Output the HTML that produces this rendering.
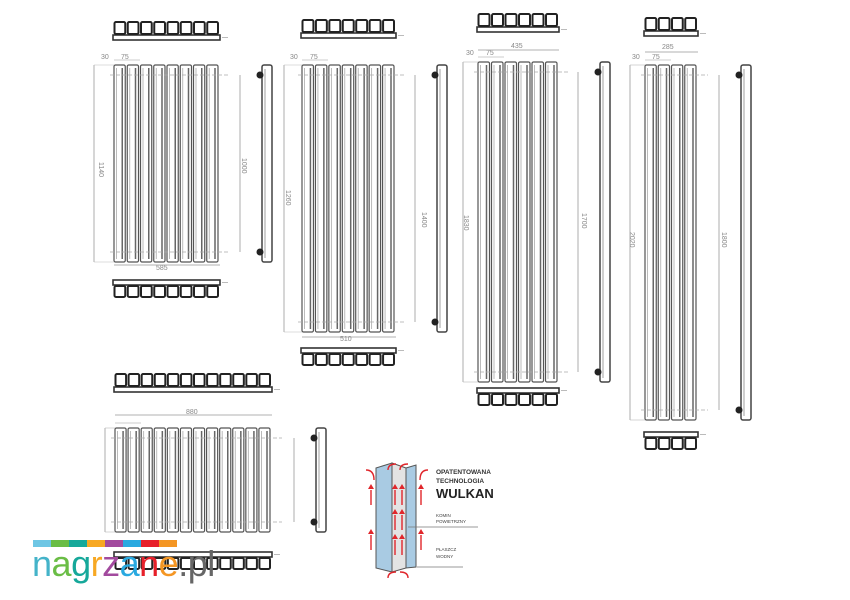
<!DOCTYPE html>
<html><head><meta charset="utf-8">
<style>
html,body{margin:0;padding:0;background:#fff;}
svg{display:block;}
text{font-family:"Liberation Sans",sans-serif;}
</style></head>
<body>
<svg id="s" width="850" height="600" viewBox="0 0 850 600" xmlns="http://www.w3.org/2000/svg">
<g id="g"></g>
<g font-size="7" fill="#888">
<text x="101" y="59">30</text><text x="121" y="59">75</text>
<text x="290" y="59">30</text><text x="310" y="59">75</text>
<text x="466" y="55">30</text><text x="486" y="55">75</text>
<text x="511" y="48">435</text>
<text x="632" y="59">30</text><text x="652" y="59">75</text>
<text x="662" y="49">285</text>
<text x="156" y="270">585</text>
<text x="340" y="341">510</text>
<text x="186" y="414">880</text>
<text transform="translate(99,162) rotate(90)">1140</text>
<text transform="translate(242,158) rotate(90)">1000</text>
<text transform="translate(286,190) rotate(90)">1260</text>
<text transform="translate(422,212) rotate(90)">1400</text>
<text transform="translate(464,215) rotate(90)">1830</text>
<text transform="translate(582,213) rotate(90)">1700</text>
<text transform="translate(630,232) rotate(90)">2020</text>
<text transform="translate(722,232) rotate(90)">1800</text>
</g>
<g>
<polygon points="376,468 392,463 392,572 376,568" fill="#a9cbe3" stroke="#555" stroke-width="1"/>
<polygon points="392,463 406,468 406,568 392,572" fill="#e3e3e3" stroke="#555" stroke-width="1"/>
<polygon points="406,468 416,465 416,567 406,568" fill="#a9cbe3" stroke="#555" stroke-width="1"/>
<g stroke="#e0262b" stroke-width="1.4" fill="none">
<path d="M366,470 q8,0 8,10"/><path d="M428,470 q-8,0 -8,10"/>
<path d="M388,470 q0,-6 8,-6"/><path d="M400,470 q0,-6 8,-6"/>
<path d="M388,578 q0,-6 8,-6"/><path d="M408,578 q0,-6 -8,-6"/>
<line x1="371" y1="505" x2="371" y2="490"/><line x1="371" y1="550" x2="371" y2="535"/>
<line x1="421" y1="505" x2="421" y2="490"/><line x1="421" y1="550" x2="421" y2="535"/>
<line x1="395" y1="505" x2="395" y2="490"/><line x1="402" y1="505" x2="402" y2="490"/>
<line x1="395" y1="530" x2="395" y2="515"/><line x1="402" y1="530" x2="402" y2="515"/>
<line x1="395" y1="555" x2="395" y2="540"/><line x1="402" y1="555" x2="402" y2="540"/>
</g>
<g fill="#e0262b">
<polygon points="368,489 371,484 374,489"/><polygon points="368,534 371,529 374,534"/>
<polygon points="418,489 421,484 424,489"/><polygon points="418,534 421,529 424,534"/>
<polygon points="392,489 395,484 398,489"/><polygon points="399,489 402,484 405,489"/>
<polygon points="392,514 395,509 398,514"/><polygon points="399,514 402,509 405,514"/>
<polygon points="392,539 395,534 398,539"/><polygon points="399,539 402,534 405,539"/>
</g>
<line x1="408" y1="527" x2="478" y2="527" stroke="#777" stroke-width="0.8"/>
<line x1="417" y1="567" x2="463" y2="567" stroke="#777" stroke-width="0.8"/>
<text x="436" y="474" font-size="6.5" font-weight="bold" fill="#333">OPATENTOWANA</text>
<text x="436" y="483" font-size="6.5" font-weight="bold" fill="#333">TECHNOLOGIA</text>
<text x="436" y="498" font-size="13" font-weight="bold" fill="#222">WULKAN</text>
<text x="436" y="517" font-size="4.5" fill="#444">KOMIN</text>
<text x="436" y="523" font-size="4.5" fill="#444">POWIETRZNY</text>
<text x="436" y="551" font-size="4.5" fill="#444">PŁASZCZ</text>
<text x="436" y="558" font-size="4.5" fill="#444">WODNY</text>
</g>
<g>
<rect x="33" y="540" width="18" height="7" fill="#6ec6e4"/>
<rect x="51" y="540" width="18" height="7" fill="#6abd45"/>
<rect x="69" y="540" width="18" height="7" fill="#16a89a"/>
<rect x="87" y="540" width="18" height="7" fill="#f7a823"/>
<rect x="105" y="540" width="18" height="7" fill="#a24a9e"/>
<rect x="123" y="540" width="18" height="7" fill="#29a9e0"/>
<rect x="141" y="540" width="18" height="7" fill="#e7202a"/>
<rect x="159" y="540" width="18" height="7" fill="#f49624"/>
<text x="32" y="576" font-size="36" fill="#555" style="letter-spacing:-0.5px"><tspan fill="#44b3c9">n</tspan><tspan fill="#6abd45">a</tspan><tspan fill="#16a89a">g</tspan><tspan fill="#f7a823">r</tspan><tspan fill="#a24a9e">z</tspan><tspan fill="#29a9e0">a</tspan><tspan fill="#e7202a">n</tspan><tspan fill="#f49624">e</tspan><tspan fill="#666">.pl</tspan></text>
</g>
</svg>
<script>
var g=document.getElementById('g'),NS='http://www.w3.org/2000/svg';
function el(t,a){var e=document.createElementNS(NS,t);for(var k in a)e.setAttribute(k,a[k]);g.appendChild(e);return e;}
function rad(x0,x1,n,y0,y1,topY,botY,sx,dimL){
  var p=(x1-x0)/n,w=p-2;
  for(var i=0;i<n;i++){var x=x0+i*p;
    el('rect',{x:x,y:y0,width:w,height:y1-y0,rx:1.5,fill:'none',stroke:'#555','stroke-width':1.2});
    el('line',{x1:x+w-3,y1:y0+3,x2:x+w-3,y2:y1-3,stroke:'#666','stroke-width':1.5});
    el('line',{x1:x+2.5,y1:y0+3,x2:x+2.5,y2:y1-3,stroke:'#aaa','stroke-width':0.8});
  }
  [y0+10,y1-10].forEach(function(y){el('line',{x1:x0-4,y1:y,x2:x1+10,y2:y,stroke:'#aaa','stroke-width':0.8,'stroke-dasharray':'4 2'});});
  hdr(x0,x1,n,topY,true);hdr(x0,x1,n,botY,false);
  el('rect',{x:sx,y:y0,width:10,height:y1-y0,rx:2,fill:'none',stroke:'#444','stroke-width':1.5});
  el('line',{x1:sx+3,y1:y0+4,x2:sx+3,y2:y1-4,stroke:'#888','stroke-width':0.8});
  el('circle',{cx:sx-2,cy:y0+10,r:3.5,fill:'#222'});el('circle',{cx:sx-2,cy:y1-10,r:3.5,fill:'#222'});
  el('line',{x1:sx-22,y1:y0+10,x2:sx-22,y2:y1-10,stroke:'#999','stroke-width':0.8});
  el('line',{x1:dimL,y1:y0,x2:dimL,y2:y1,stroke:'#999','stroke-width':0.8});
  el('line',{x1:dimL,y1:y0,x2:x0,y2:y0,stroke:'#bbb','stroke-width':0.6});
  el('line',{x1:dimL,y1:y1,x2:x0,y2:y1,stroke:'#bbb','stroke-width':0.6});
  el('line',{x1:x0,y1:y0-5,x2:x0+26,y2:y0-5,stroke:'#999','stroke-width':0.6});
}
function hdr(x0,x1,n,y,top){
  var p=(x1-x0)/n,by=top?y+13:y,sy=top?y:y+6;
  el('rect',{x:x0-1,y:by,width:x1-x0+1,height:5,fill:'none',stroke:'#333','stroke-width':1.6});
  for(var i=0;i<n;i++){el('rect',{x:x0+i*p+0.5,y:sy,width:p-2.5,height:top?12:11,rx:1.5,fill:'none',stroke:'#222','stroke-width':2});}
  el('line',{x1:x1+2,y1:by+2.5,x2:x1+8,y2:by+2.5,stroke:'#aaa','stroke-width':0.8});
}
rad(114,220,8,65,262,22,280,262,94);
el('line',{x1:114,y1:265,x2:220,y2:265,stroke:'#999','stroke-width':0.8});
rad(302,396,7,65,332,20,348,437,284);
el('line',{x1:302,y1:337,x2:396,y2:337,stroke:'#999','stroke-width':0.8});
rad(478,559,6,62,382,14,388,600,463);
el('line',{x1:478,y1:50,x2:559,y2:50,stroke:'#999','stroke-width':0.8});
rad(645,698,4,65,420,18,432,741,630);
el('line',{x1:645,y1:52,x2:698,y2:52,stroke:'#999','stroke-width':0.8});
rad(115,272,12,428,532,374,552,316,105);
el('line',{x1:115,y1:415,x2:272,y2:415,stroke:'#999','stroke-width':0.8});
</script>
</body></html>
